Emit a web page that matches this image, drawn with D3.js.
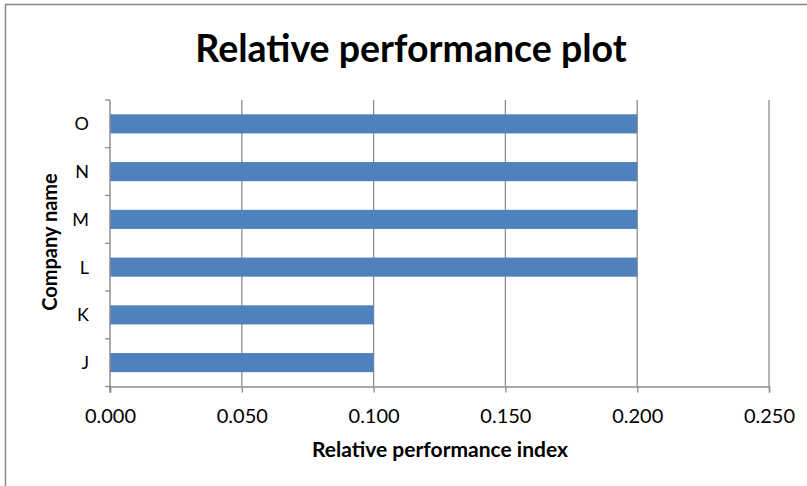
<!DOCTYPE html>
<html><head><meta charset="utf-8">
<script src="https://cdn.jsdelivr.net/npm/d3@7"></script>
<style>body{margin:0;background:#fff}svg{display:block}</style>
</head><body>
<svg id="c" width="807" height="486"></svg>
<script>
const categories = ["J","K","L","M","N","O"];
const values = [0.1,0.1,0.2,0.2,0.2,0.2];
const xTicks = [0,0.05,0.1,0.15,0.2,0.25];
const titleText = "Relative performance plot";
const xTitle = "Relative performance index";
const yTitle = "Company name";

const svg = d3.select("#c");
const font = "Lato, 'Open Sans', sans-serif";
const m = {l:110, r:769, t:100, b:386.5};
// chart border
svg.append("path").attr("d","M5.5,486 V4.5 H807").attr("fill","none").attr("stroke","#888").attr("stroke-width",1.5);

const x = d3.scaleLinear().domain([0,0.25]).range([m.l,m.r]);
const y = d3.scaleBand().domain(categories.slice().reverse()).range([m.t,m.b]).paddingInner(0.6).paddingOuter(0.3);

// gridlines
svg.append("g").selectAll("line").data(xTicks.slice(1)).join("line")
  .attr("x1",d=>x(d)).attr("x2",d=>x(d)).attr("y1",m.t).attr("y2",m.b)
  .attr("stroke","#8c8c8c").attr("stroke-width",1.3);

// bars
svg.append("g").selectAll("rect").data(categories).join("rect")
  .attr("x",x(0)).attr("y",c=>y(c)).attr("height",y.bandwidth())
  .attr("width",(c,i)=>x(values[i])-x(0)).attr("fill","#4F81BD");

// x axis
const xa = svg.append("g").attr("transform",`translate(0,${m.b})`)
  .call(d3.axisBottom(x).tickValues(xTicks).tickFormat(d3.format(".3f")).tickSizeOuter(0).tickSize(6).tickPadding(0));
xa.select(".domain").attr("stroke","#8c8c8c").attr("stroke-width",1.5);
xa.selectAll(".tick line").attr("stroke","#8c8c8c").attr("stroke-width",1.3);
xa.selectAll("text").attr("font-family",font).attr("font-size",20).attr("fill","#000")
  .attr("dy",null).attr("y",36);

// y axis with ticks at band boundaries
const yb = d3.range(categories.length+1).map(i=>m.t+i*(m.b-m.t)/categories.length);
svg.append("line").attr("x1",m.l).attr("x2",m.l).attr("y1",m.t).attr("y2",m.b+6).attr("stroke","#8c8c8c").attr("stroke-width",1.5);
svg.append("g").selectAll("line").data(yb).join("line")
  .attr("x1",m.l-5).attr("x2",m.l).attr("y1",d=>d).attr("y2",d=>d).attr("stroke","#8c8c8c").attr("stroke-width",1.3);
svg.append("g").selectAll("text").data(categories).join("text")
  .attr("x",89).attr("y",c=>y(c)+y.bandwidth()/2).attr("dy","0.36em").attr("text-anchor","end")
  .attr("font-family",font).attr("font-size",18).text(c=>c);

// titles
svg.append("text").attr("x",411).attr("y",62).attr("text-anchor","middle").attr("font-family",font)
  .attr("font-weight","bold").attr("font-size",37.5).text(titleText);
svg.append("text").attr("x",440).attr("y",457).attr("text-anchor","middle").attr("font-family",font)
  .attr("font-weight","bold").attr("font-size",21).text(xTitle);
svg.append("text").attr("transform","translate(57,242) rotate(-90)").attr("text-anchor","middle").attr("font-family",font)
  .attr("font-weight","bold").attr("font-size",20).text(yTitle);
</script>
</body></html>
